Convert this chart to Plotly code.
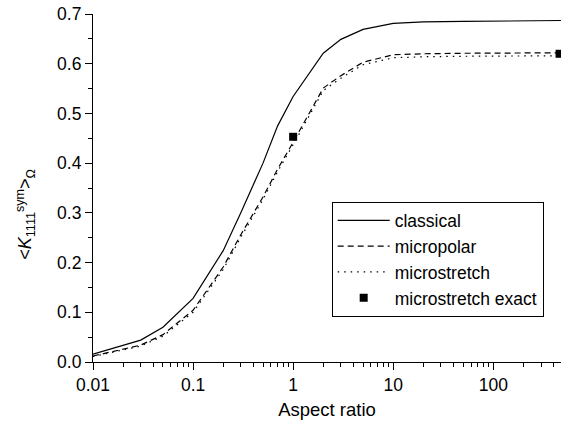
import plotly.graph_objects as go

# ---- data ----
aspect = [0.01, 0.03, 0.05, 0.1, 0.2, 0.3, 0.5, 0.7, 1, 2, 3, 5, 10, 20, 50, 100, 200, 500]
classical = [0.016, 0.044, 0.070, 0.128, 0.224, 0.300, 0.400, 0.475, 0.534, 0.621, 0.649, 0.669,
             0.681, 0.684, 0.685, 0.686, 0.686, 0.687]
micropolar = [0.012, 0.034, 0.055, 0.104, 0.191, 0.256, 0.332, 0.388, 0.442, 0.551, 0.576, 0.603,
              0.618, 0.620, 0.621, 0.621, 0.622, 0.622]
microstretch = [0.011, 0.032, 0.052, 0.100, 0.186, 0.251, 0.327, 0.383, 0.437, 0.546, 0.571, 0.598,
                0.612, 0.614, 0.615, 0.615, 0.616, 0.616]
exact_x = [1, 460]
exact_y = [0.453, 0.620]

major_vals = [0.01, 0.1, 1, 10, 100]
major_text = ["0.01", "0.1", "1", "10", "100"]
minor_vals = [m * d for d in [0.01, 0.1, 1, 10, 100] for m in range(2, 10)]

x_title = "Aspect ratio"
y_title = "&lt;<i>K</i><sub>1111</sub><sup>sym</sup>&gt;<sub>Ω</sub>"

FONT = "Liberation Sans, Arial, sans-serif"

fig = go.Figure()
fig.add_trace(go.Scatter(x=aspect, y=classical, mode="lines", name="classical",
                         line=dict(color="black", width=1.2)))
fig.add_trace(go.Scatter(x=aspect, y=micropolar, mode="lines", name="micropolar",
                         line=dict(color="black", width=1.2, dash="6px,4px")))
fig.add_trace(go.Scatter(x=aspect, y=microstretch, mode="lines", name="microstretch",
                         line=dict(color="black", width=1.2, dash="1.5px,5px")))
fig.add_trace(go.Scatter(x=exact_x, y=exact_y, mode="markers", name="microstretch exact",
                         marker=dict(symbol="square", size=8, color="black"),
                         cliponaxis=False))

fig.update_layout(
    width=561, height=427,
    margin=dict(l=93, r=0, t=14, b=65),
    paper_bgcolor="white", plot_bgcolor="white",
    font=dict(family=FONT, size=17.5, color="black"),
    showlegend=True,
    legend=dict(x=0.51, y=0.461, xanchor="left", yanchor="top",
                bordercolor="black", borderwidth=1, bgcolor="white",
                font=dict(size=17.5), tracegroupgap=0, itemwidth=52,
                entrywidth=175, entrywidthmode="pixels"),
    annotations=[dict(text=y_title, xref="paper", yref="paper", x=-0.146, y=0.425,
                      xanchor="center", yanchor="middle", textangle=-90,
                      showarrow=False, font=dict(size=18))],
)
fig.update_xaxes(
    type="log", range=[-2, 2.677], automargin=False,
    tickmode="array", tickvals=major_vals, ticktext=major_text,
    ticks="outside", ticklen=7, tickwidth=1.2, tickcolor="black",
    showline=True, linecolor="black", linewidth=1.2, mirror=False,
    showgrid=False, zeroline=False,
    minor=dict(tickmode="array", tickvals=minor_vals, ticks="outside", ticklen=4,
               tickwidth=1, tickcolor="black", showgrid=False),
    title=dict(text=x_title, standoff=8, font=dict(size=18.5)),
    tickfont=dict(size=17.5),
)
fig.update_yaxes(
    range=[0, 0.7], dtick=0.1, tickformat=".1f", automargin=False,
    ticks="outside", ticklen=7, tickwidth=1.2, tickcolor="black",
    showline=True, linecolor="black", linewidth=1.2, mirror=False,
    showgrid=False, zeroline=False,
    minor=dict(dtick=0.05, ticks="outside", ticklen=4, tickwidth=1,
               tickcolor="black", showgrid=False),
    tickfont=dict(size=17.5),
)

fig.write_html("out.html", config={"displayModeBar": False},
               post_script="document.body.style.margin='0';document.body.style.overflow='hidden';")
